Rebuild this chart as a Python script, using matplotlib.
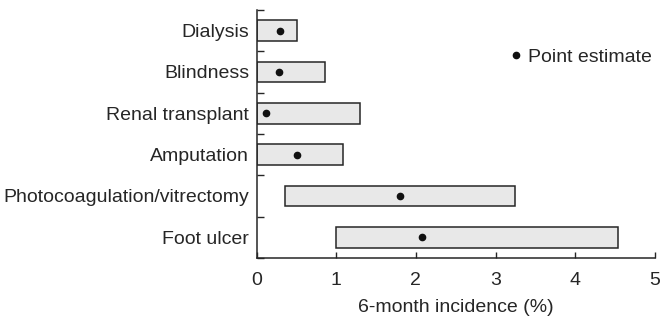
import matplotlib
matplotlib.use('Agg')
import numpy as np
import matplotlib.pyplot as plt
from matplotlib.lines import Line2D

plt.rcParams['font.family'] = ['Liberation Sans', 'DejaVu Sans']

# 数据
outcomes = ['Dialysis', 'Blindness', 'Renal transplant', 'Amputation',
            'Photocoagulation/vitrectomy', 'Foot ulcer']
range_low = [0.0, 0.0, 0.0, 0.0, 0.35, 0.99]
range_high = [0.51, 0.86, 1.30, 1.08, 3.24, 4.54]
point_est = [0.29, 0.28, 0.12, 0.51, 1.80, 2.08]
x_ticks = [0, 1, 2, 3, 4, 5]

ink = '#262626'
fs = 14

fig = plt.figure(figsize=(6.6, 3.22), dpi=100)
ax = fig.add_axes([0.389, 0.199, 0.603, 0.770])

y = np.arange(len(outcomes))
widths = np.array(range_high) - np.array(range_low)
ax.barh(y, widths, left=range_low, height=0.5, color='#e8e8e8',
        edgecolor=ink, linewidth=1.1, zorder=2)
ax.plot(point_est, y, 'o', color='#111111', markersize=4.5, zorder=3)

ax.set_xlim(0, 5)
ax.set_ylim(len(outcomes) - 0.5, -0.5)

# 主刻度在类别分界处（向内），标签放在次刻度
ax.set_yticks(np.arange(len(outcomes) + 1) - 0.5)
ax.set_yticklabels([])
ax.set_yticks(y, minor=True)
ax.set_yticklabels(outcomes, minor=True, fontsize=fs, color=ink)
ax.tick_params(axis='y', which='major', direction='in', length=5, width=1, color=ink)
ax.tick_params(axis='y', which='minor', length=0, pad=5.5)

ax.set_xticks(x_ticks)
ax.set_xticklabels([str(t) for t in x_ticks], fontsize=fs, color=ink)
ax.tick_params(axis='x', direction='in', length=4, width=1, color=ink, pad=10)
ax.set_xlabel('6-month incidence (%)', fontsize=fs, color=ink, labelpad=7)

for side in ['top', 'right']:
    ax.spines[side].set_visible(False)
for side in ['left', 'bottom']:
    ax.spines[side].set_color(ink)
    ax.spines[side].set_linewidth(1.1)

handle = Line2D([], [], marker='o', linestyle='none', color='#111111', markersize=4.5)
leg = ax.legend([handle], ['Point estimate'], loc='center right',
                bbox_to_anchor=(1.013, 0.81), frameon=False, fontsize=fs,
                handlelength=0.5, handletextpad=0.4, borderaxespad=0)
for t in leg.get_texts():
    t.set_color(ink)

fig.savefig('out.png', dpi=100)
